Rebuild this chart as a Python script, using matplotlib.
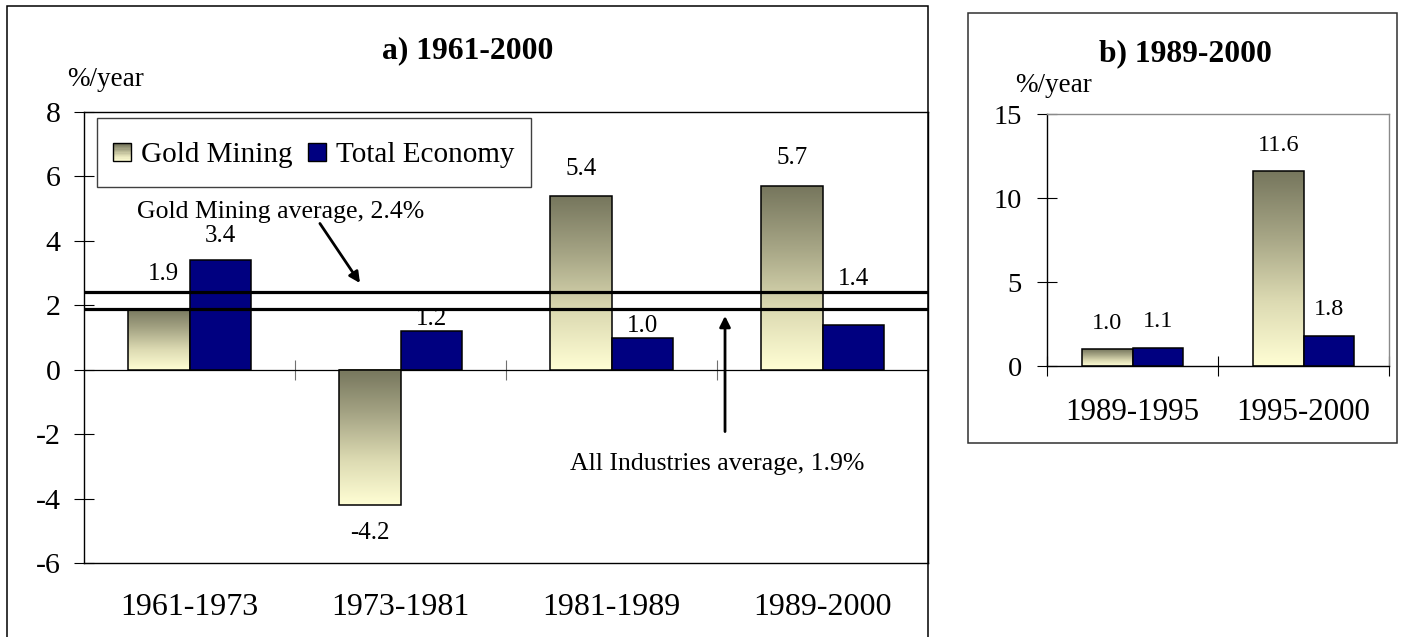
import matplotlib
matplotlib.use('Agg')
import matplotlib.pyplot as plt
import numpy as np
from matplotlib.colors import LinearSegmentedColormap
from matplotlib.patches import Rectangle, Patch
from matplotlib.legend_handler import HandlerBase

# ---------------- data ----------------
periods_a = ['1961-1973', '1973-1981', '1981-1989', '1989-2000']
gold_a = [1.9, -4.2, 5.4, 5.7]
total_a = [3.4, 1.2, 1.0, 1.4]

periods_b = ['1989-1995', '1995-2000']
gold_b = [1.0, 11.6]
total_b = [1.1, 1.8]

gold_avg = 2.4
all_avg = 1.9

series_names = ['Gold Mining', 'Total Economy']

# label offsets (pixels, from bar end to label centre) - styling only
gold_a_off = [35, 28, 27, 28]
total_a_off = [24, 12, 11, 46]
gold_b_off = [26, 26]
total_b_off = [26, 26]

plt.rcParams['font.family'] = ['Liberation Serif', 'DejaVu Serif']
plt.rcParams['axes.unicode_minus'] = False

W, H = 1403, 637
fig = plt.figure(figsize=(W / 100, H / 100), dpi=100)


def fx(px):
    return px / W


def fy(py):
    return 1 - py / H


NAVY = '#000080'
gold_cmap = LinearSegmentedColormap.from_list(
    'gold', ['#76765d', '#a6a585', '#dcdab2', '#fffed4'])

MARK = 13.0  # legend marker size in points


class SquareHandler(HandlerBase):
    def __init__(self, gradient=False, color=NAVY):
        super().__init__()
        self.gradient = gradient
        self.color = color

    def create_artists(self, legend, orig_handle, xdescent, ydescent,
                       width, height, fontsize, trans):
        s = MARK
        x0 = -xdescent + (width - s) / 2
        y0 = -ydescent + (height - s) / 2
        arts = []
        if self.gradient:
            n = 14
            for i in range(n):
                c = gold_cmap(i / (n - 1))
                arts.append(Rectangle((x0, y0 + s * (1 - (i + 1) / n)), s, s / n,
                                      facecolor=c, edgecolor='none', transform=trans))
            arts.append(Rectangle((x0, y0), s, s, fill=False, edgecolor='black',
                                  lw=1.0, transform=trans))
        else:
            arts.append(Rectangle((x0, y0), s, s, facecolor=self.color,
                                  edgecolor='black', lw=1.0, transform=trans))
        return arts


def draw_bars(ax, cats, gold, total, width, goff, toff, lsize, gdx=None):
    x = np.arange(len(cats))
    gb = ax.bar(x - width / 2, gold, width, facecolor='none',
                edgecolor='black', lw=1.1, zorder=3)
    tb = ax.bar(x + width / 2, total, width, facecolor=NAVY,
                edgecolor='black', lw=1.1, zorder=3)
    grad = np.linspace(0, 1, 256).reshape(-1, 1)
    for p in gb:
        x0 = p.get_x()
        x1 = x0 + p.get_width()
        y0 = p.get_y()
        y1 = y0 + p.get_height()
        ax.imshow(grad, cmap=gold_cmap, extent=[x0, x1, min(y0, y1), max(y0, y1)],
                  origin='upper', aspect='auto', zorder=2, interpolation='bilinear')
    for i, (p, v) in enumerate(zip(gb, gold)):
        dx = 0 if gdx is None else gdx[i]
        ax.annotate(f'{v:.1f}', xy=(p.get_x() + p.get_width() / 2, v),
                    xytext=(dx, goff[i] if v >= 0 else -goff[i]),
                    textcoords='offset pixels', ha='center', va='center',
                    fontsize=lsize, zorder=6)
    for i, (p, v) in enumerate(zip(tb, total)):
        ax.annotate(f'{v:.1f}', xy=(p.get_x() + p.get_width() / 2, v),
                    xytext=(0, toff[i] if v >= 0 else -toff[i]),
                    textcoords='offset pixels', ha='center', va='center',
                    fontsize=lsize, zorder=6)
    return x


# ---------------- panel a ----------------
ax = fig.add_axes([fx(84), fy(563), fx(928) - fx(84), fy(112) - fy(563)])
xa = draw_bars(ax, periods_a, gold_a, total_a, 0.29, gold_a_off, total_a_off, 18,
               gdx=[5, 0, 0, 0])
ax.set_xlim(-0.5, len(periods_a) - 0.5)
ax.set_ylim(-6, 8)
ax.set_yticks(np.arange(-6, 9, 2))
ax.tick_params(axis='y', direction='inout', length=14.4, width=0.8,
               labelsize=21.5, pad=9.5)
ax.set_xticks(xa)
ax.set_xticklabels(periods_a)
ax.tick_params(axis='x', length=0, labelsize=23, pad=21.5)
for s in ax.spines.values():
    s.set_linewidth(1.0)
    s.set_color('black')

ax.axhline(gold_avg, color='black', lw=2.3, zorder=5)
ax.axhline(all_avg, color='black', lw=2.3, zorder=5)

ymin, ymax = ax.get_ylim()
sec = ax.secondary_xaxis((0 - ymin) / (ymax - ymin))
sec.set_xticks(np.arange(len(periods_a) - 1) + 0.5)
sec.tick_params(direction='inout', length=14.4, width=0.8, color='#707070',
                labelbottom=False, labeltop=False)
for s in sec.spines.values():
    s.set_linewidth(0.9)

leg_handles = [Patch(label=series_names[0]),
               Patch(facecolor=NAVY, edgecolor='black', label=series_names[1])]
leg = ax.legend(handles=leg_handles,
                handler_map={leg_handles[0]: SquareHandler(gradient=True),
                             leg_handles[1]: SquareHandler(color=NAVY)},
                loc='upper left', bbox_to_anchor=(fx(97), fy(118)),
                bbox_transform=fig.transFigure, borderaxespad=0, ncol=2,
                fontsize=21, frameon=True, fancybox=False, edgecolor='#404040',
                framealpha=1, handlelength=0.62, handleheight=1.55,
                handletextpad=0.33, columnspacing=0.55, borderpad=0.55)
leg.get_frame().set_linewidth(1.0)
leg.set_zorder(7)

# annotations
ax.text(0.434, 4.70, 'Gold Mining average, 2.4%', ha='center', va='baseline',
        fontsize=18.5, zorder=6)
ax.annotate('', xy=(0.808, 2.69), xytext=(0.618, 4.54),
            arrowprops=dict(arrowstyle='-|>', lw=2.0, color='black',
                            mutation_scale=16, shrinkA=0, shrinkB=0), zorder=6)
ax.text(2.50, -3.11, 'All Industries average, 1.9%', ha='center', va='baseline',
        fontsize=18.5, zorder=6)
ax.annotate('', xy=(2.538, 1.67), xytext=(2.538, -1.92),
            arrowprops=dict(arrowstyle='-|>', lw=2.0, color='black',
                            mutation_scale=16, shrinkA=0, shrinkB=0), zorder=6)

# ---------------- panel b ----------------
axb = fig.add_axes([fx(1047), fy(366), fx(1389) - fx(1047), fy(114) - fy(366)])
xb = draw_bars(axb, periods_b, gold_b, total_b, 0.295, gold_b_off, total_b_off, 17.5)
axb.set_xlim(-0.5, len(periods_b) - 0.5)
axb.set_ylim(0, 15)
axb.set_yticks(np.arange(0, 16, 5))
axb.tick_params(axis='y', direction='inout', length=14.4, width=0.8,
                labelsize=20.5, pad=10.8)
axb.set_xticks(xb)
axb.set_xticklabels(periods_b)
axb.tick_params(axis='x', which='major', length=0, labelsize=22.3, pad=22.7)
axb.set_xticks(np.arange(len(periods_b) + 1) - 0.5, minor=True)
axb.tick_params(axis='x', which='minor', direction='inout', length=14.4, width=0.8)
axb.spines['left'].set_color('black')
axb.spines['bottom'].set_color('black')
axb.spines['top'].set_color('#8a8a8a')
axb.spines['right'].set_color('#8a8a8a')
for s in axb.spines.values():
    s.set_linewidth(1.0)

# ---------------- titles, units, frames ----------------
fig.text(fx(467.5), fy(58), 'a) 1961-2000', ha='center', va='baseline',
         fontsize=22.8, fontweight='bold')
fig.text(fx(1185), fy(61.5), 'b) 1989-2000', ha='center', va='baseline',
         fontsize=22.8, fontweight='bold')
fig.text(fx(106), fy(80), '%/year', ha='center', va='center', fontsize=19.5)
fig.text(fx(1054), fy(85), '%/year', ha='center', va='center', fontsize=19.5)

fig.add_artist(Rectangle((fx(7), fy(645)), fx(928) - fx(7), fy(6) - fy(645),
                         transform=fig.transFigure, fill=False,
                         edgecolor='black', lw=1.1))
fig.add_artist(Rectangle((fx(968), fy(443)), fx(1397) - fx(968), fy(12.7) - fy(443),
                         transform=fig.transFigure, fill=False,
                         edgecolor='#303030', lw=1.1))

fig.savefig('out.png', dpi=100)
